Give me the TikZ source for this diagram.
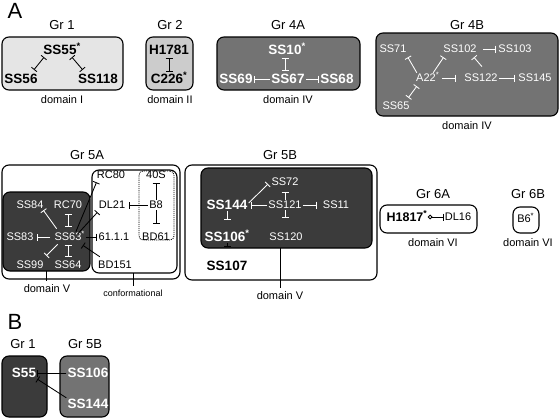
\documentclass[tikz,border=0pt]{standalone}
\usepackage{fontspec}
\setmainfont{Liberation Sans}
\usetikzlibrary{arrows.meta}
\newcommand{\astmark}{\smash{\rlap{\textsuperscript{*}}}}

\begin{document}
\begin{tikzpicture}[x=1pt,y=-1pt,line width=0.85pt,
                    inh/.style={-{Bar[width=7pt]}},
                    mut/.style={{Bar[width=7pt]}-{Bar[width=7pt]}}]
  \tikzstyle{grp}=[draw,rounded corners=7pt,line width=1.1pt,inner sep=0pt,outer sep=0pt]
  \tikzstyle{ttl}=[font=\fontsize{13}{13}\selectfont]
  \tikzstyle{dom}=[font=\fontsize{11}{11}\selectfont]
  \tikzstyle{big}=[font=\fontsize{13.5}{13.5}\selectfont\bfseries,inner sep=1pt]
  \tikzstyle{sml}=[font=\fontsize{11}{11}\selectfont,inner sep=1pt]
  \useasboundingbox (0,0) rectangle (560,418);

  \node[font=\fontsize{22}{22}\selectfont] (lblA) at (15,11) {A};

  \node[ttl] (t1) at (62,25) {Gr 1};
  \node[grp,fill=black!10,minimum width=121pt,minimum height=53pt] (g1) at (62.5,63.5) {};
  \node[dom] (d1) at (62,100) {domain I};
  \node[big] (ss55)  at (60,50) {SS55\astmark};
  \node[big] (ss56)  at (21,79) {SS56};
  \node[big] (ss118) at (98,79) {SS118};
  \path ([xshift=2pt,yshift=-1pt]ss55.south west) edge[mut] ([xshift=-5pt,yshift=3pt]ss56.north east)
        ([xshift=-6pt,yshift=-1pt]ss55.south east) edge[mut] ([xshift=6pt,yshift=3pt]ss118.north west);

  \node[ttl] (t2) at (170,25) {Gr 2};
  \node[grp,fill=black!20,minimum width=47pt,minimum height=53pt] (g2) at (169.5,63.5) {};
  \node[dom] (d2) at (170,100) {domain II};
  \node[big] (h1781) at (169,50) {H1781};
  \node[big] (c226)  at (167,79) {C226\astmark};
  \path (h1781.south) edge[mut,shorten <=2pt,shorten >=1pt] (h1781.south |- c226.north);

  \node[ttl] (t4a) at (288,25) {Gr 4A};
  \node[grp,fill=black!55,minimum width=143pt,minimum height=53pt] (g4a) at (288.5,63.5) {};
  \node[dom] (d4a) at (288,100) {domain IV};
  \node[big,white] (ss10) at (285,50) {SS10\astmark};
  \node[big,white] (ss69) at (236,79) {SS69};
  \node[big,white] (ss67) at (288,79) {SS67};
  \node[big,white] (ss68) at (337,79) {SS68};
  \path (ss10.south) edge[mut,white,shorten <=2pt,shorten >=2pt] (ss10.south |- ss67.north)
        (ss67) edge[inh,white] (ss69)
        (ss67) edge[inh,white] (ss68);

  \node[ttl] (t4b) at (467,25) {Gr 4B};
  \node[grp,fill=black!55,minimum width=182pt,minimum height=83pt] (g4b) at (467,74.5) {};
  \node[dom] (d4b) at (467,126) {domain IV};
  \node[sml,white] (ss71)  at (393,49) {SS71};
  \node[sml,white] (ss102) at (460,49) {SS102};
  \node[sml,white] (ss103) at (515,49) {SS103};
  \node[sml,white] (a22)   at (426,78) {A22\astmark};
  \node[sml,white] (ss122) at (481,78) {SS122};
  \node[sml,white] (ss145) at (535,78) {SS145};
  \node[sml,white] (ss65)  at (396,106) {SS65};
  \path ([xshift=2pt]a22.north west) edge[inh,white] ([yshift=-3pt]ss71.south east)
        ([xshift=-4pt]a22.north east) edge[inh,white] ([xshift=1.5pt,yshift=-3pt]ss102.south west)
        (a22) edge[inh,white,shorten <=5pt,shorten >=7pt] (ss122)
        ([xshift=2pt,yshift=-3pt]a22.south west) edge[mut,white] ([xshift=-2.5pt,yshift=3pt]ss65.north east)
        ([xshift=1pt,yshift=6pt]ss122.north) edge[inh,white] ([xshift=-4pt,yshift=-3pt]ss102.south east)
        (ss102) edge[inh,white,shorten <=5pt,shorten >=1pt] (ss103)
        (ss122) edge[inh,white,shorten >=2pt] (ss145);

  \node[ttl] (t5a) at (87,155) {Gr 5A};
  \node[grp,fill=white,minimum width=178pt,minimum height=114pt] (g5a) at (91,222) {};
  \node[grp,fill=black!77,minimum width=87pt,minimum height=79pt] (g5adk) at (46.5,231.5) {};
  \node[grp,fill=white,minimum width=85pt,minimum height=103pt] (g5acf) at (134.5,221.5) {};
  \node[grp,densely dotted,line width=0.8pt,rounded corners=4pt,minimum width=35pt,minimum height=69pt] (g5adt) at (156.5,205.5) {};
  \node[dom] (d5a) at (47,289) {domain V};
  \node[font=\fontsize{9}{9}\selectfont] (c5a) at (133,293) {conformational};
  \path (g5adk.south) edge (g5adk.south |- d5a.north)
        (g5acf.south -| c5a.north) edge (c5a.north);
  \node[sml,white] (ss84) at (30,205) {SS84};
  \node[sml,white] (rc70) at (68,205) {RC70};
  \node[sml,white] (ss83) at (20,237) {SS83};
  \node[sml,white] (ss63) at (68,237) {SS63\astmark};
  \node[sml,white] (ss99) at (30,265) {SS99};
  \node[sml,white] (ss64) at (68,265) {SS64};
  \node[sml] (rc80)  at (111,175) {RC80};
  \node[sml] (s40)   at (156,175) {40S};
  \node[sml] (dl21)  at (112,205) {DL21};
  \node[sml] (b8)    at (156,205) {B8};
  \node[sml] (n61)   at (114,237) {61.1.1};
  \node[sml] (bd61)  at (156,237) {BD61};
  \node[sml] (bd151) at (115,265) {BD151};
  \path (ss63) edge[inh,white,shorten <=3pt,shorten >=2.5pt] (ss83)
        ([xshift=3.5pt,yshift=3pt]ss63.north west) edge[inh,white] ([xshift=-1.5pt]ss84.south east)
        (ss63.north) edge[mut,white,shorten <=5pt,shorten >=4pt] (ss63.north |- rc70.south)
        ([xshift=4.5pt,yshift=-2pt]ss63.south west) edge[inh,white] ([xshift=1.5pt,yshift=4pt]ss99.north east)
        (ss63.south) edge[mut,white,shorten <=3pt,shorten >=3pt] (ss63.south |- ss64.north)
        ([xshift=-7pt]ss63.north east) edge[inh] ([xshift=1pt,yshift=-2pt]rc80.south west)
        ([xshift=-5pt,yshift=-2pt]ss63.north east) edge[inh] ([yshift=-2pt]dl21.south west)
        (ss63) edge[inh,shorten <=3pt] (n61)
        ([xshift=3pt,yshift=3pt]bd151.north west) edge[inh] ([yshift=-3pt]ss63.south east)
        (b8) edge[inh,shorten >=2pt] (dl21)
        (b8.north) edge[inh,shorten >=3pt] (b8.north |- s40.south)
        (b8.south) edge[inh,shorten >=8pt] (b8.south |- bd61.north);

  \node[ttl] (t5b) at (280,155) {Gr 5B};
  \node[grp,fill=white,minimum width=192pt,minimum height=115pt] (g5b) at (281,222.5) {};
  \node[grp,fill=black!77,minimum width=171pt,minimum height=80pt] (g5bdk) at (286.5,208) {};
  \node[dom] (d5b) at (280,296) {domain V};
  \path (d5b.north |- g5bdk.south) edge (d5b.north);
  \node[sml,white] (ss72)  at (285,182) {SS72};
  \node[big,white] (ss144) at (227,205) {SS144};
  \node[sml,white] (ss121) at (285,205) {SS121};
  \node[sml,white] (ss11)  at (336,205) {SS11};
  \node[big,white] (ss106) at (225,237) {SS106\astmark};
  \node[sml,white] (ss120) at (286,237) {SS120};
  \node[big] (ss107) at (227,266) {SS107};
  \path (ss121.north) edge[inh,white,shorten >=5pt] (ss121.north |- ss72.south)
        ([yshift=2pt]ss144.east) edge[inh,white,shorten >=3pt] (ss72.west)
        (ss121) edge[inh,white,shorten >=2pt] (ss144)
        (ss121) edge[inh,white,shorten >=4.5pt] (ss11)
        (ss121.south) edge[inh,white,shorten >=14pt] (ss121.south |- ss120.north)
        (ss144.south) edge[inh,white,shorten >=11pt] (ss144.south |- ss106.north)
        (ss107.north |- ss106.south) edge[inh,shorten >=13pt] (ss107.north);

  \node[ttl] (t6a) at (433,194) {Gr 6A};
  \node[grp,fill=white,minimum width=97pt,minimum height=28pt] (g6a) at (428.5,219) {};
  \node[dom] (d6a) at (433,243) {domain VI};
  \node[font=\fontsize{12.5}{12.5}\selectfont\bfseries,inner sep=1pt] (h1817) at (405,217) {H1817\astmark};
  \node[sml] (dl16) at (458,217) {DL16};
  \path (h1817) edge[{Circle[open,length=4.5pt,width=4.5pt]}-{Bar[width=7pt]},shorten <=3pt] (dl16);

  \node[ttl] (t6b) at (528,194) {Gr 6B};
  \node[grp,fill=white,minimum width=26pt,minimum height=26pt] (g6b) at (526,220) {};
  \node[dom] (d6b) at (528,243) {domain VI};
  \node[sml] (b6) at (524,219) {B6\astmark};

  \node[font=\fontsize{22}{22}\selectfont] (lblB) at (15,322) {B};
  \node[ttl] (tb1) at (23,344) {Gr 1};
  \node[ttl] (tb5) at (85,344) {Gr 5B};
  \node[grp,fill=black!77,minimum width=45pt,minimum height=61pt] (gb1) at (24.5,386.5) {};
  \node[grp,fill=black!55,minimum width=49pt,minimum height=61pt] (gb5) at (84.5,386.5) {};
  \node[big,white] (bs55)   at (24,373) {S55};
  \node[big,white] (bss106) at (88,373) {SS106};
  \node[big,white] (bss144) at (88,404) {SS144};
  \path (bss106) edge[inh] (bs55)
        (bss144.north west) edge[inh] (bs55.south east);
\end{tikzpicture}
\end{document}
